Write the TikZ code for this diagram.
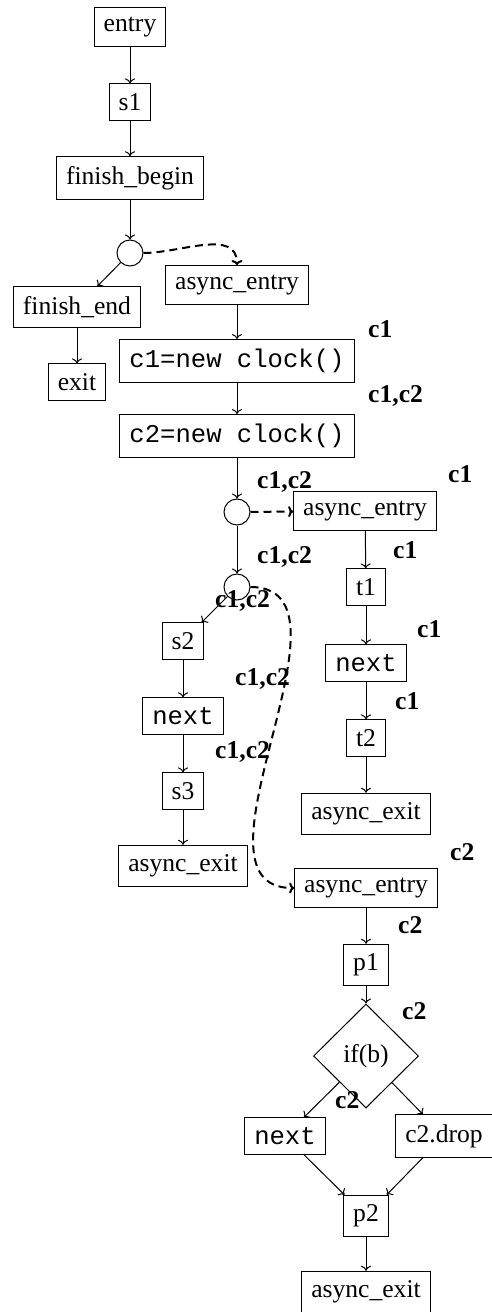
\documentclass[tikz,border=0pt]{standalone}
\usepackage{fontspec}
\setmainfont{Liberation Serif}
\setmonofont{Liberation Mono}
\usetikzlibrary{shapes.geometric,arrows.meta}
\begin{document}
\begin{tikzpicture}[x=1pt,y=-1pt,
  every node/.style={font=\fontsize{25.6}{30}\selectfont},
  box/.style={draw,line width=1pt,inner sep=9.5pt},
  junc/.style={draw,circle,line width=1pt,inner sep=0pt,minimum size=26pt},
  dec/.style={draw,diamond,line width=1pt,inner sep=0pt,minimum width=105pt,minimum height=104pt},
  lab/.style={anchor=base west,inner sep=0pt,font=\fontsize{25.6}{30}\selectfont\bfseries},
  flow/.style={line width=1pt,-{To[length=5pt,width=10pt]}},
  async/.style={line width=2pt,dash pattern=on 8pt off 5pt,-{To[length=5pt,width=11pt]}}
]
\useasboundingbox (0,0) rectangle (492,1312);
% left column
\node[box] (entry) at (130,27) {entry};
\node[box] (s1) at (130,102) {s1};
\node[box] (fb) at (130,178) {finish\_begin};
\node[junc] (j1) at (130,253) {};
\node[box] (fe) at (77,307) {finish\_end};
\node[box] (exit) at (77,382) {exit};
% second column
\node[box] (ae1) at (237,285) {async\_entry};
\node[box] (c1n) at (237,361) {\ttfamily c1=new clock()};
\node[box] (c2n) at (237,436) {\ttfamily c2=new clock()};
\node[junc] (j2) at (237,512) {};
\node[junc] (j3) at (237,587) {};
\node[box] (s2) at (183,641) {s2};
\node[box] (nl) at (183,716) {\ttfamily next};
\node[box] (s3) at (183,791) {s3};
\node[box] (axl) at (183,866) {async\_exit};
% right column
\node[box] (ae2) at (365,511) {async\_entry};
\node[box] (t1) at (366,587) {t1};
\node[box] (nr) at (366,663) {\ttfamily next};
\node[box] (t2) at (366,738) {t2};
\node[box] (axr) at (366,814) {async\_exit};
% bottom
\node[box] (ae3) at (366,888) {async\_entry};
\node[box] (p1) at (366,965) {p1};
\node[dec] (ifb) at (366,1056) {if(b)};
\node[box] (nb) at (285,1136) {\ttfamily next};
\node[box] (drop) at (444,1136) {c2.drop};
\node[box] (p2) at (366,1216) {p2};
\node[box] (axb) at (366,1292) {async\_exit};
% solid edges
\draw[flow] (entry) -- (s1);
\draw[flow] (s1) -- (fb);
\draw[flow] (fb) -- (j1);
\draw[flow] (j1) -- (fe);
\draw[flow] (fe) -- (exit);
\draw[flow] (ae1) -- (c1n);
\draw[flow] (c1n) -- (c2n);
\draw[flow] (c2n) -- (j2);
\draw[flow] (j2) -- (j3);
\draw[flow] (j3) -- (s2);
\draw[flow] (s2) -- (nl);
\draw[flow] (nl) -- (s3);
\draw[flow] (s3) -- (axl);
\draw[flow] (ae2) -- (t1);
\draw[flow] (t1) -- (nr);
\draw[flow] (nr) -- (t2);
\draw[flow] (t2) -- (axr);
\draw[flow] (ae3) -- (p1);
\draw[flow] (p1) -- (ifb);
\draw[flow] (ifb) -- (nb);
\draw[flow] (ifb) -- (drop);
\draw[flow] (nb) -- (p2);
\draw[flow] (drop) -- (p2);
\draw[flow] (p2) -- (axb);
% async edges
\draw[async] (j1) to[out=0,in=90] (ae1);
\draw[async] (j2) -- (ae2);
\draw[async] (j3) to[out=0,in=180] (ae3);
% labels
\node[lab] (l1) at (368,337) {c1};
\node[lab] (l2) at (368,402) {c1,c2};
\node[lab] (l3) at (257,488) {c1,c2};
\node[lab] (l4) at (448,482) {c1};
\node[lab] (l5) at (257,563) {c1,c2};
\node[lab] (l6) at (393,558) {c1};
\node[lab] (l7) at (215,607) {c1,c2};
\node[lab] (l8) at (417,637) {c1};
\node[lab] (l9) at (235,685) {c1,c2};
\node[lab] (l10) at (395,709) {c1};
\node[lab] (l11) at (215,758) {c1,c2};
\node[lab] (l12) at (450,860) {c2};
\node[lab] (l13) at (398,933) {c2};
\node[lab] (l14) at (402,1019) {c2};
\node[lab] (l15) at (335,1108) {c2};
\end{tikzpicture}
\end{document}
